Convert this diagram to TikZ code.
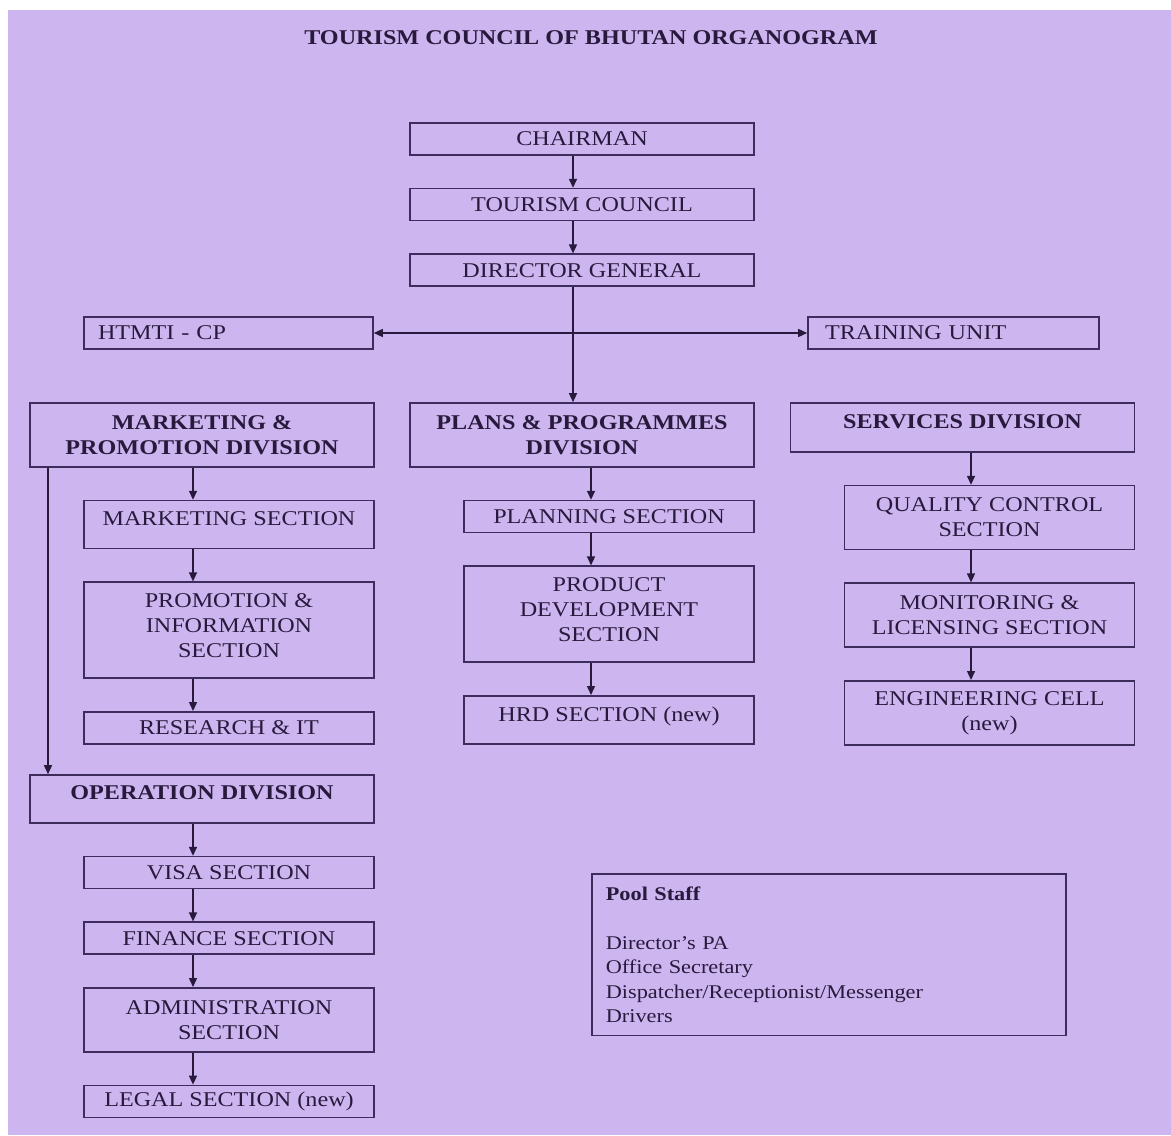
\documentclass[tikz,border=0pt]{standalone}
\usepackage{fontspec}
\setmainfont{Liberation Serif}[FakeStretch=1.15]
\usetikzlibrary{positioning, arrows.meta}
\definecolor{bg-lilac}{RGB}{205,181,240}
\definecolor{ink}{RGB}{40,26,60}
\definecolor{frame}{RGB}{62,44,92}

\begin{document}
\begin{tikzpicture}[x=0.5pt, y=-0.5pt, node distance=16pt]
	\tikzset{orgbox/.style={draw=frame, line width=0.8pt, text=ink, align=center, inner sep=2pt, font=\fontsize{10.5}{12.5}\selectfont}}
	\tikzset{divbox/.style={orgbox, font=\fontsize{10.5}{12.5}\selectfont\bfseries, minimum width=172pt}}
	\tikzset{secbox/.style={orgbox, minimum width=145pt}}
	\tikzset{arr/.style={-{Triangle[length=4.5pt, width=4pt]}, draw=ink, line width=0.7pt}}
	% page and background
	\useasboundingbox (0,0) rectangle (1171,1135);
	\fill[white] (0,0) rectangle (1171,1135);
	\fill[bg-lilac] (8,10) rectangle (1171,1135);
	\node[text=ink, font=\fontsize{10.5}{12.5}\selectfont\bfseries] (title) at (591,38) {TOURISM COUNCIL OF BHUTAN ORGANOGRAM};
	% top of the chart
	\node[orgbox, minimum width=172pt, minimum height=16pt] (chair) at (582,139) {CHAIRMAN};
	\node[orgbox, minimum width=172pt, minimum height=16pt, below=of chair] (council) {TOURISM COUNCIL};
	\node[orgbox, minimum width=172pt, minimum height=16pt, below=of council] (dg) {DIRECTOR GENERAL};
	\node[orgbox, align=left, text width=130.5pt, inner xsep=7pt, minimum height=16pt] (htmti) at (228.5,333) {HTMTI - CP};
	\node[orgbox, align=left, text width=128.5pt, inner xsep=8.5pt, minimum height=16pt] (training) at (953.5,333) {TRAINING UNIT};
	% divisions
	\node[divbox, minimum height=32pt] (mktdiv) at (202,435) {MARKETING \&\\PROMOTION DIVISION};
	\node[divbox, minimum height=32pt] (plans) at (582,435) {PLANS \& PROGRAMMES\\DIVISION};
	\node[divbox, minimum height=24.5pt, text depth=6pt] (services) at (962.5,427.5) {SERVICES DIVISION};
	\node[divbox, minimum height=24pt, text depth=6pt] (opdiv) at (202,799) {OPERATION DIVISION};
	% sections
	\node[secbox, minimum height=24pt, text depth=6pt, below=of mktdiv.south east, anchor=north east] (mktsec) {MARKETING SECTION};
	\node[secbox, minimum height=48pt, text depth=4.5pt, below=of mktsec] (promo) {PROMOTION \&\\INFORMATION\\SECTION};
	\node[secbox, minimum height=16pt, below=of promo] (research) {RESEARCH \& IT};
	\node[secbox, minimum height=16pt, below=of opdiv.south east, anchor=north east] (visa) {VISA SECTION};
	\node[secbox, minimum height=16pt, below=of visa] (finance) {FINANCE SECTION};
	\node[secbox, minimum height=32pt, below=of finance] (admin) {ADMINISTRATION\\SECTION};
	\node[secbox, minimum height=16pt, below=of admin] (legal) {LEGAL SECTION (new)};
	\node[secbox, minimum height=16pt, below=of plans.south east, anchor=north east] (planning) {PLANNING SECTION};
	\node[secbox, minimum height=48pt, text depth=4.5pt, below=of planning] (product) {PRODUCT\\DEVELOPMENT\\SECTION};
	\node[secbox, minimum height=24pt, text depth=6pt, below=of product] (hrd) {HRD SECTION (new)};
	\node[secbox, minimum height=32pt, below=of services.south east, anchor=north east] (quality) {QUALITY CONTROL\\SECTION};
	\node[secbox, minimum height=32pt, below=of quality] (licensing) {MONITORING \&\\LICENSING SECTION};
	\node[secbox, minimum height=32pt, below=of licensing] (engcell) {ENGINEERING CELL\\(new)};
	% pool staff
	\node[draw=frame, line width=0.8pt, text=ink, align=left, anchor=north west, text width=223pt, inner xsep=7pt, inner ysep=6.3pt, font=\fontsize{9.7}{12.25}\selectfont] (pool) at (591,873) {\textbf{Pool Staff}\\[12.25pt]Director’s PA\\Office Secretary\\Dispatcher/Receptionist/Messenger\\Drivers};
	% spines of the columns
	\coordinate (topspine) at (573,0);
	\coordinate (lspine) at (193,0);
	\coordinate (mspine) at (591,0);
	\coordinate (rspine) at (971,0);
	\coordinate (opfeed) at (48,0);
	\coordinate (hub) at (573,333);
	% connectors
	\draw[arr] (chair.south -| topspine) -- (council.north -| topspine);
	\draw[arr] (council.south -| topspine) -- (dg.north -| topspine);
	\draw[arr] (dg.south -| topspine) -- (plans.north -| topspine);
	\draw[arr] (hub) -- (htmti);
	\draw[arr] (hub) -- (training);
	\draw[arr] (mktdiv.south -| lspine) -- (mktsec.north -| lspine);
	\draw[arr] (mktsec.south -| lspine) -- (promo.north -| lspine);
	\draw[arr] (promo.south -| lspine) -- (research.north -| lspine);
	\draw[arr] (mktdiv.south -| opfeed) -- (opdiv.north -| opfeed);
	\draw[arr] (opdiv.south -| lspine) -- (visa.north -| lspine);
	\draw[arr] (visa.south -| lspine) -- (finance.north -| lspine);
	\draw[arr] (finance.south -| lspine) -- (admin.north -| lspine);
	\draw[arr] (admin.south -| lspine) -- (legal.north -| lspine);
	\draw[arr] (plans.south -| mspine) -- (planning.north -| mspine);
	\draw[arr] (planning.south -| mspine) -- (product.north -| mspine);
	\draw[arr] (product.south -| mspine) -- (hrd.north -| mspine);
	\draw[arr] (services.south -| rspine) -- (quality.north -| rspine);
	\draw[arr] (quality.south -| rspine) -- (licensing.north -| rspine);
	\draw[arr] (licensing.south -| rspine) -- (engcell.north -| rspine);
\end{tikzpicture}
\end{document}
